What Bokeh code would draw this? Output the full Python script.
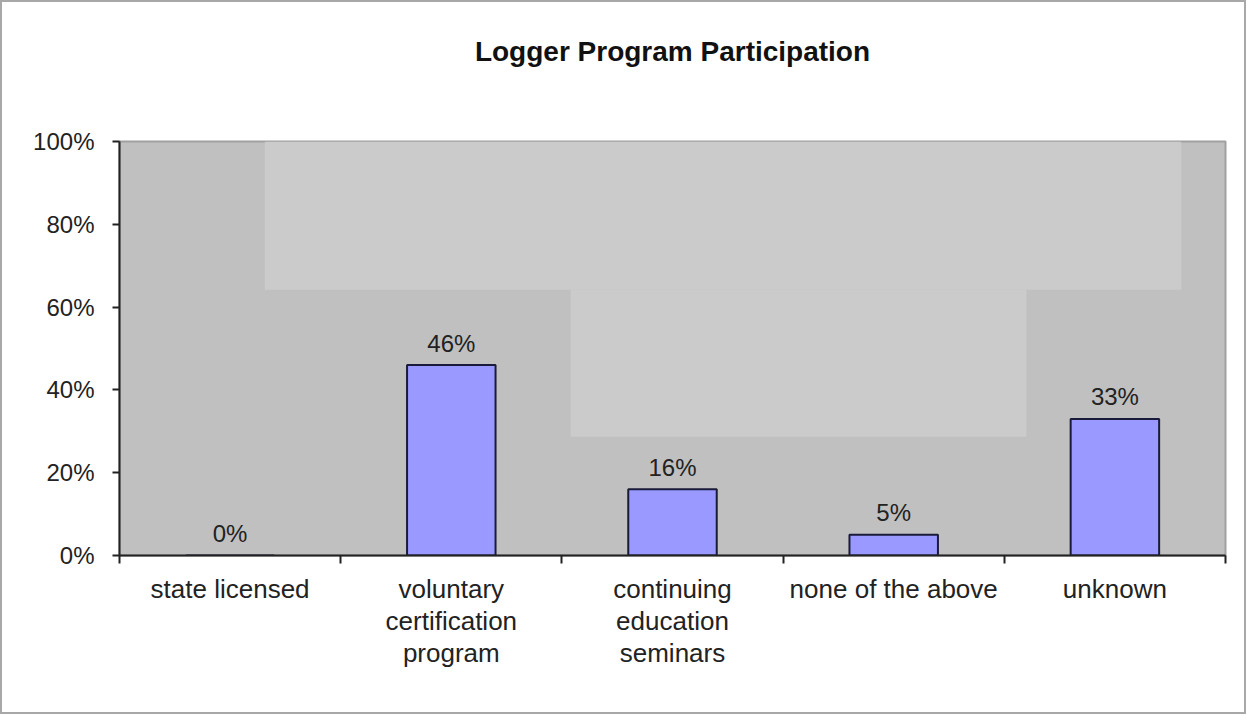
import numpy as np
from bokeh.plotting import figure
from bokeh.models import ColumnDataSource, Range1d, FixedTicker, NumeralTickFormatter, BoxAnnotation, LinearAxis
from bokeh.embed import file_html
from bokeh.resources import INLINE
from bokeh.core.properties import value

# ---- data ----
categories = ["state licensed", "voluntary certification program",
              "continuing education seminars", "none of the above", "unknown"]
tick_labels = ["state licensed", "voluntary\ncertification\nprogram",
               "continuing\neducation\nseminars", "none of the above", "unknown"]
shares = [0.00, 0.46, 0.16, 0.05, 0.33]
y_ticks = [0.0, 0.2, 0.4, 0.6, 0.8, 1.0]
title_text = "Logger Program Participation"

n = len(categories)
centers = [i + 0.5 for i in range(n)]
bounds = [float(i) for i in range(n + 1)]

src = ColumnDataSource(dict(
    x=centers, top=shares, cat=categories,
    lab=[f"{round(v * 100)}%" for v in shares],
))

FONT = "Liberation Sans"
W, H = 1246, 714
ML, MR, MT, MB = 117, 23, 139, 161

p = figure(width=W, height=H, output_backend="svg", toolbar_location=None,
           x_range=Range1d(0, n), y_range=Range1d(0, 1),
           min_border_left=ML, min_border_right=MR, min_border_top=MT, min_border_bottom=MB)
p.styles = {"border": "2px solid #a8a8a8"}
p.border_fill_color = "white"
p.background_fill_color = "#c0c0c0"
p.outline_line_color = "#a0a0a0"
p.outline_line_width = 2
p.xgrid.visible = False
p.ygrid.visible = False

# bottom x axis: labels at centers, tick marks at boundaries (as minor ticks)
xa = p.below[0]
xa.ticker = FixedTicker(ticks=centers, minor_ticks=bounds)
xa.major_label_overrides = {c: t for c, t in zip(centers, tick_labels)}
xa.major_label_text_font = FONT
xa.major_label_text_font_size = "26px"
xa.major_label_text_color = "#222222"
xa.major_label_text_line_height = 1.07
xa.major_tick_line_color = None
xa.major_tick_in = 0
xa.major_tick_out = 0
xa.minor_tick_in = 0
xa.minor_tick_out = 8
xa.minor_tick_line_width = 2
xa.minor_tick_line_color = "#222222"
xa.axis_line_width = 2
xa.axis_line_color = "#222222"
xa.major_label_standoff = 10

# y axis
ya = p.left[0]
ya.ticker = FixedTicker(ticks=y_ticks, minor_ticks=[])
ya.formatter = NumeralTickFormatter(format="0%")
ya.major_label_text_font = FONT
ya.major_label_text_font_size = "24px"
ya.major_label_text_color = "#222222"
ya.major_tick_in = 0
ya.major_tick_out = 7
ya.major_tick_line_width = 2
ya.major_tick_line_color = "#222222"
ya.axis_line_width = 2
ya.axis_line_color = "#222222"
ya.major_label_standoff = 18

# title drawn as the label of an otherwise empty top axis
tax = LinearAxis(ticker=FixedTicker(ticks=[], minor_ticks=[]),
                 axis_line_color=None, major_tick_line_color=None, minor_tick_line_color=None,
                 major_tick_out=0, major_tick_in=0, minor_tick_out=0, minor_tick_in=0,
                 major_label_text_font_size="0px")
tax.axis_label = title_text
tax.axis_label_text_font = FONT
tax.axis_label_text_font_size = "28px"
tax.axis_label_text_font_style = "bold"
tax.axis_label_text_color = "#111111"
tax.axis_label_standoff = 75
p.add_layout(tax, "above")

# lighter background patches seen in the reference plot area
p.add_layout(BoxAnnotation(left=0.657, right=4.80, bottom=0.642, top=1.0,
                           fill_color="#cbcbcb", fill_alpha=1, line_color=None, level="underlay"))
p.add_layout(BoxAnnotation(left=2.04, right=4.10, bottom=0.287, top=0.642,
                           fill_color="#cbcbcb", fill_alpha=1, line_color=None, level="underlay"))

# bars
p.vbar(x="x", top="top", width=0.4, bottom=0, source=src,
       fill_color="#9999ff", line_color="#1a1a3a", line_width=2)

# data labels
p.text(x="x", y="top", text="lab", source=src, text_align="center", text_baseline="middle",
       y_offset=-22, text_font=value(FONT), text_font_size="24px", text_color="#222222")

open("out.html", "w").write(file_html(p, INLINE))
